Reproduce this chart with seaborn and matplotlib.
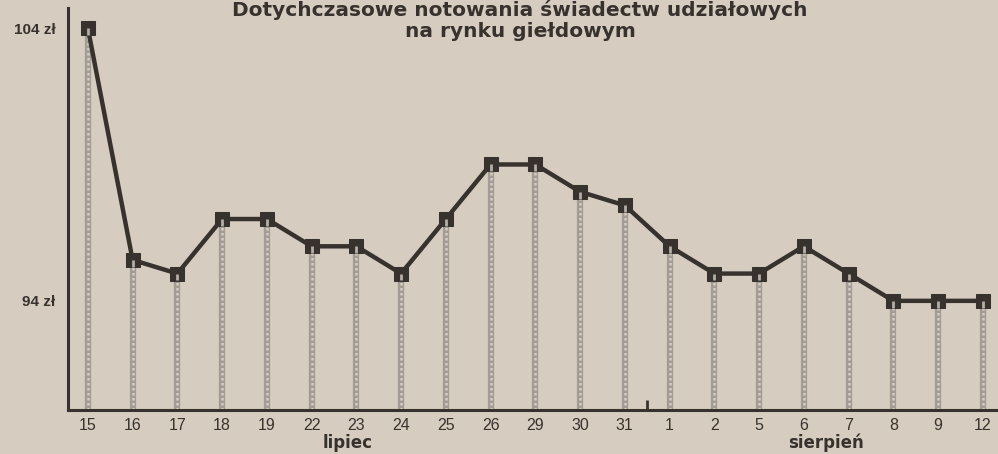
import numpy as np
import pandas as pd
import seaborn as sns
import matplotlib.pyplot as plt

# Data
days = ["15", "16", "17", "18", "19", "22", "23", "24", "25", "26", "29",
        "30", "31", "1", "2", "5", "6", "7", "8", "9", "12"]
month = ["lipiec"] * 13 + ["sierpień"] * 8
price = [104, 95.5, 95, 97, 97, 96, 96, 95, 97, 99, 99,
         98, 97.5, 96, 95, 95, 96, 95, 94, 94, 94]
title_lines = ["Dotychczasowe notowania świadectw udziałowych", "na rynku giełdowym"]

df = pd.DataFrame({"day": days, "month": month, "price": price})
df["pos"] = np.arange(len(df))

paper = "#d6cdc0"
ink = "#38322f"

sns.set_theme(style="white")
plt.rcParams["font.family"] = ["Liberation Sans", "DejaVu Sans"]

fig = plt.figure(figsize=(9.98, 4.54), dpi=100, facecolor=paper)
ax = fig.add_axes([0.068, 0.097, 0.932, 0.885])
ax.set_facecolor(paper)

# drop lines (screened grey stripes)
ax.vlines(df["pos"], 90, df["price"], color="#a39c95", lw=4.5, zorder=1)
ax.vlines(df["pos"], 90, df["price"], color="#d4cdc4", lw=1.8,
          linestyles=(0, (1, 1)), zorder=2)

sns.lineplot(data=df, x="pos", y="price", ax=ax, color=ink, lw=3.2,
             marker="s", markersize=10, markeredgecolor=ink, zorder=3)
# let the stripe show at the marker bottom
ax.vlines(df["pos"], df["price"] - 0.25, df["price"], color="#b5aea6", lw=2, zorder=4)

ax.set_xlim(-0.447, 20.34)
ax.set_ylim(90, 104.73)
ax.set_xlabel("")
ax.set_ylabel("")

for s in ["top", "right"]:
    ax.spines[s].set_visible(False)
for s in ["left", "bottom"]:
    ax.spines[s].set_color(ink)
    ax.spines[s].set_linewidth(2.2)

ax.set_yticks([94, 104])
ax.set_yticklabels(["94 zł", "104 zł"], fontsize=11, fontweight="bold", color=ink)
ax.tick_params(axis="y", direction="in", length=9, width=2, color=ink, pad=9)
ax.set_xticks(df["pos"])
ax.set_xticklabels(df["day"], fontsize=11.5, color=ink)
ax.tick_params(axis="x", length=0, pad=6)

# month separator tick
ax.vlines(12.5, 90, 90.35, color=ink, lw=2, clip_on=False)

month_pos = {"lipiec": 5.8, "sierpień": 16.5}
for m in ["lipiec", "sierpień"]:
    ax.text(month_pos[m], -0.104, m, transform=ax.get_xaxis_transform(),
            ha="center", va="bottom", fontsize=12, fontweight="bold",
            color=ink, family="DejaVu Sans")

fig.text(0.521, 0.999, title_lines[0], ha="center", va="top", fontsize=14.5,
         fontweight="bold", color=ink, family="DejaVu Sans")
fig.text(0.521, 0.93, title_lines[1], ha="center", va="center", fontsize=14.5,
         fontweight="bold", color=ink, family="DejaVu Sans")

fig.savefig("out.png", dpi=100, facecolor=paper)
